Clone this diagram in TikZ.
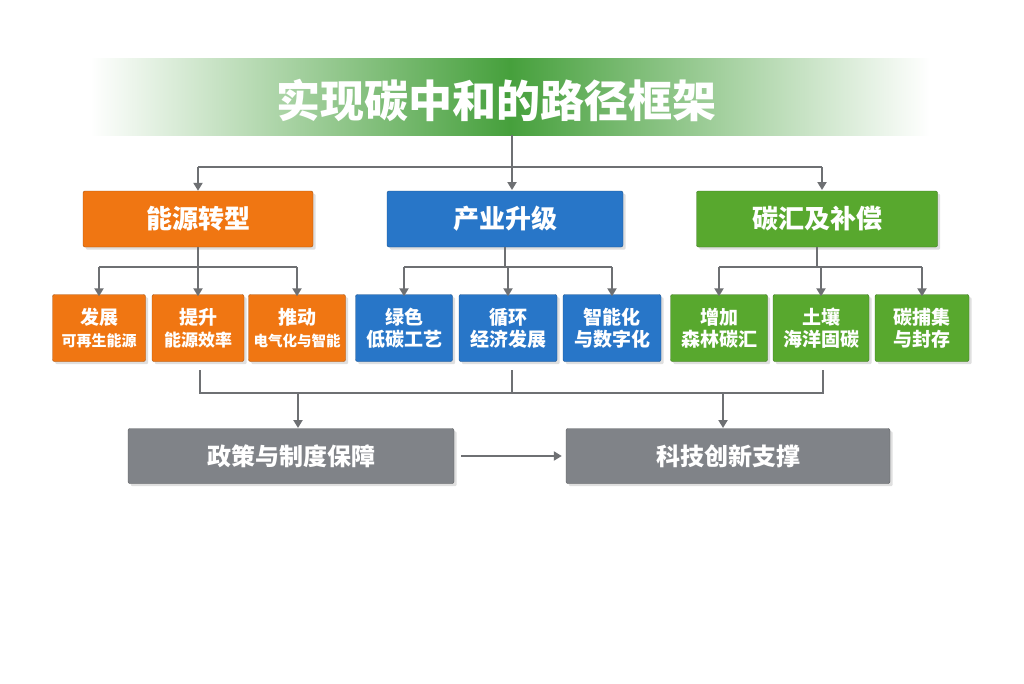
\documentclass[tikz,border=0pt]{standalone}
\usepackage{fontspec}
\setmainfont{Noto Sans CJK SC}
\usetikzlibrary{positioning,arrows.meta,shadows}
\definecolor{orangebox}{RGB}{240,118,18}
\definecolor{bluebox}{RGB}{40,118,200}
\definecolor{greenbox}{RGB}{88,168,46}
\definecolor{graybox}{RGB}{128,131,136}
\definecolor{linegray}{RGB}{110,112,115}
\definecolor{titlegreen}{RGB}{70,160,60}
\tikzset{
  box/.style={draw=#1!70!black, fill=#1, rounded corners=2pt, text=white,
    font=\bfseries, inner sep=0pt, align=center, drop shadow={opacity=0.25}},
  bigbox/.style={box=#1, minimum height=56pt, font=\bfseries\fontsize{26}{30}\selectfont},
  smallbox/.style={box=#1, minimum height=67pt, font=\bfseries\fontsize{19}{26}\selectfont},
  basebox/.style={box=graybox, minimum width=326pt, minimum height=55pt,
    font=\bfseries\fontsize{24}{28}\selectfont},
  link/.style={draw=linegray, line width=2pt},
  arr/.style={link, -{Triangle[length=8pt,width=9pt]}}
}
\begin{document}
\begin{tikzpicture}[x=1pt,y=-1pt]
\useasboundingbox (0,0) rectangle (1024,683);
\fill[white] (0,0) rectangle (1024,683);
% title banner
\shade[left color=white, right color=white, middle color=titlegreen] (90,58) rectangle (930,135);
\node[text=white, font=\bfseries\fontsize{44}{48}\selectfont] (title) at (496,100) {实现碳中和的路径框架};
% main branches
\node[bigbox=orangebox, minimum width=230pt] (energy) at (198,219) {能源转型};
\node[bigbox=bluebox, minimum width=236pt] (industry) at (505,219) {产业升级};
\node[bigbox=greenbox, minimum width=241pt] (sink) at (817,219) {碳汇及补偿};
% sub boxes
\node[smallbox=orangebox, minimum width=93pt] (e1) at (99,328) {发展\\[-4pt]{\fontsize{15}{17}\selectfont 可再生能源}};
\node[smallbox=orangebox, minimum width=92pt] (e2) at (198,328) {提升\\[-4pt]{\fontsize{17}{19}\selectfont 能源效率}};
\node[smallbox=orangebox, minimum width=97pt] (e3) at (297,328) {推动\\[-4pt]{\fontsize{14.5}{17}\selectfont 电气化与智能}};
\node[smallbox=bluebox, minimum width=97pt] (i1) at (404,328) {绿色\\[-4pt]低碳工艺};
\node[smallbox=bluebox, minimum width=98pt] (i2) at (508,328) {循环\\[-4pt]经济发展};
\node[smallbox=bluebox, minimum width=98pt] (i3) at (612,328) {智能化\\[-4pt]与数字化};
\node[smallbox=greenbox, minimum width=97pt] (s1) at (719,328) {增加\\[-4pt]森林碳汇};
\node[smallbox=greenbox, minimum width=96pt] (s2) at (821,328) {土壤\\[-4pt]海洋固碳};
\node[smallbox=greenbox, minimum width=94pt] (s3) at (922,328) {碳捕集\\[-4pt]与封存};
% base boxes
\node[basebox] (policy) at (291,456) {政策与制度保障};
\node[basebox, minimum width=324pt] (tech) at (728,456) {科技创新支撑};
% tree from title
\coordinate (tj) at (512,167);
\draw[link] (512,135) -- (tj);
\draw[link] (198,167) -- (822,167);
\draw[arr] (198,167) -- (energy.north);
\draw[arr] (tj) -- (512,190);
\draw[arr] (822,167) -- (822,190);
% branches to sub boxes
\foreach \p/\a/\b/\c in {energy/e1/e2/e3, industry/i1/i2/i3, sink/s1/s2/s3}{
  \draw[link] (\p.south) -- ++(0,20) coordinate (m);
  \draw[link] (\a.north |- m) -- (\c.north |- m);
  \foreach \q in {\a,\b,\c}
    \draw[arr] (\q.north |- m) -- ([yshift=-2pt]\q.north);
}
% collecting lines
\draw[link] (200,370) -- (200,393) -- (823,393) -- (823,370);
\draw[link] (512,370) -- (512,393);
\draw[arr] (298,393) -- (298,428);
\draw[arr] (723,393) -- (723,428);
\draw[arr] ([xshift=7pt]policy.east) -- ([xshift=-4pt]tech.west);
\end{tikzpicture}
\end{document}
